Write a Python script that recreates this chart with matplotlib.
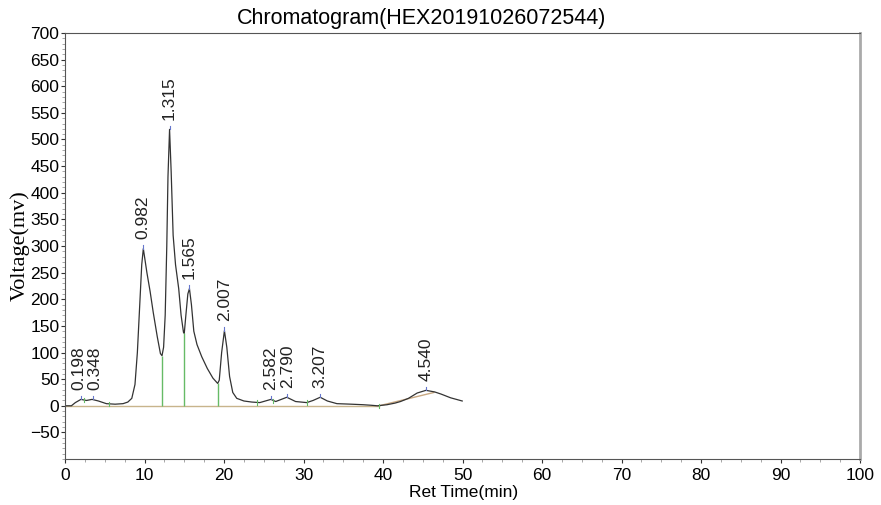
import matplotlib.pyplot as plt
from matplotlib.ticker import MultipleLocator

# chromatogram trace (min, mV)
time_min = [0.0, 0.8, 1.3, 2.0, 2.7, 3.4, 4.2, 5.2, 6.3, 7.3, 7.9, 8.4, 8.8, 9.1,
            9.4, 9.65, 9.85, 10.1, 10.3, 10.7, 11.1, 11.6, 12.0, 12.2, 12.4, 12.6,
            12.8, 12.95, 13.15, 13.35, 13.6, 13.9, 14.3, 14.6, 14.9, 15.0, 15.2,
            15.45, 15.65, 15.9, 16.2, 16.6, 17.2, 17.9, 18.6, 19.2, 19.4, 19.7,
            20.05, 20.35, 20.7, 21.1, 21.6, 22.5, 23.5, 24.5, 25.9, 26.5, 27.9,
            29.0, 30.4, 31.2, 32.1, 33.0, 34.2, 36.0, 37.5, 38.5, 39.3, 40.5,
            41.5, 42.2, 43.2, 44.3, 45.4, 46.5, 47.3, 48.5, 49.96]
voltage = [0, 0, 6, 12, 10, 12, 9, 4, 3, 4, 7, 14, 40, 100,
           190, 265, 295, 270, 250, 215, 175, 130, 98, 94, 110, 170,
           300, 430, 519, 440, 320, 265, 220, 170, 138, 136, 170,
           210, 220, 190, 140, 115, 92, 70, 52, 42, 48, 100,
           141, 110, 55, 25, 14, 9, 7, 6, 12, 8, 16,
           8, 6, 10, 16, 9, 4, 3, 2, 1, 0, 2,
           5, 8, 14, 24, 29, 26, 22, 15, 9]

peak_labels = ["0.198", "0.348", "0.982", "1.315", "1.565", "2.007",
               "2.582", "2.790", "3.207", "4.540"]
peak_time = [1.98, 3.48, 9.85, 13.15, 15.65, 20.05, 25.9, 27.9, 32.1, 45.4]
peak_height = [12, 12, 295, 519, 220, 141, 12, 16, 16, 29]

# valley drop lines
drop_time = [12.2, 15.0, 19.2]
drop_height = [94, 136, 42]

# baseline split marks
split_time = [2.4, 5.5, 24.1, 26.2, 30.4, 39.5]
split_height = [11, 4, 6, 9, 6, 0]

# baseline under the last peak
base_time = [39.5, 46.4]
base_height = [0, 25]

sans = ['Liberation Sans', 'DejaVu Sans']
plt.rcParams['font.family'] = sans

fig = plt.figure(figsize=(8.81, 5.05), dpi=100)
ax = fig.add_axes([0.0738, 0.091, 0.9024, 0.8437])

ax.axhline(0, xmin=0, xmax=39.5 / 100, color="#c8b48c", lw=1)
ax.plot(base_time, base_height, color="#c8a882", lw=1)
ax.plot(time_min, voltage, color="#333333", lw=0.9)

ax.vlines(drop_time, 0, drop_height, color="#66bb66", lw=1)
for t, h in zip(split_time, split_height):
    ax.plot([t, t], [h - 4, h + 4], color="#66bb66", lw=0.8)
# small sideways nudge so the two crowded labels at the start do not collide
nudge = [-1.5, 1.5, 0, 0, 0, 0, -0.5, 0.5, 0, 0]
for t, h, lab, dx in zip(peak_time, peak_height, peak_labels, nudge):
    ax.plot([t, t], [h, h + 6], color="#6677cc", lw=0.8)
    ax.annotate(lab, (t, h), xytext=(dx, 7), textcoords="offset points",
                rotation=90, ha="center", va="bottom", fontsize=12.5,
                color="#222222")

ax.set_xlim(0, 100)
ax.set_ylim(-100, 700)
ax.set_xticks(range(0, 101, 10))
ax.set_yticks(range(-50, 701, 50))
ax.xaxis.set_minor_locator(MultipleLocator(2.5))
ax.yaxis.set_minor_locator(MultipleLocator(10))
ax.tick_params(which="major", length=3, labelsize=12.5, colors="#333333", labelcolor="black")
ax.tick_params(which="minor", length=2, colors="#999999")
ax.tick_params(axis="y", pad=1)

ax.spines["left"].set_color("#555555")
ax.spines["bottom"].set_color("#555555")
ax.spines["top"].set_color("#555555")
ax.spines["right"].set_color("#aaaaaa")
ax.spines["right"].set_linewidth(2)

ax.set_ylabel("Voltage(mv)", family="Liberation Serif", fontsize=16, labelpad=0)
fig.text(0.526, 0.024, "Ret Time(min)", ha="center", va="center", fontsize=12.5)
fig.text(0.479, 0.964, "Chromatogram(HEX20191026072544)", ha="center", va="center",
         fontsize=15.5)

fig.savefig("out.png", dpi=100)
